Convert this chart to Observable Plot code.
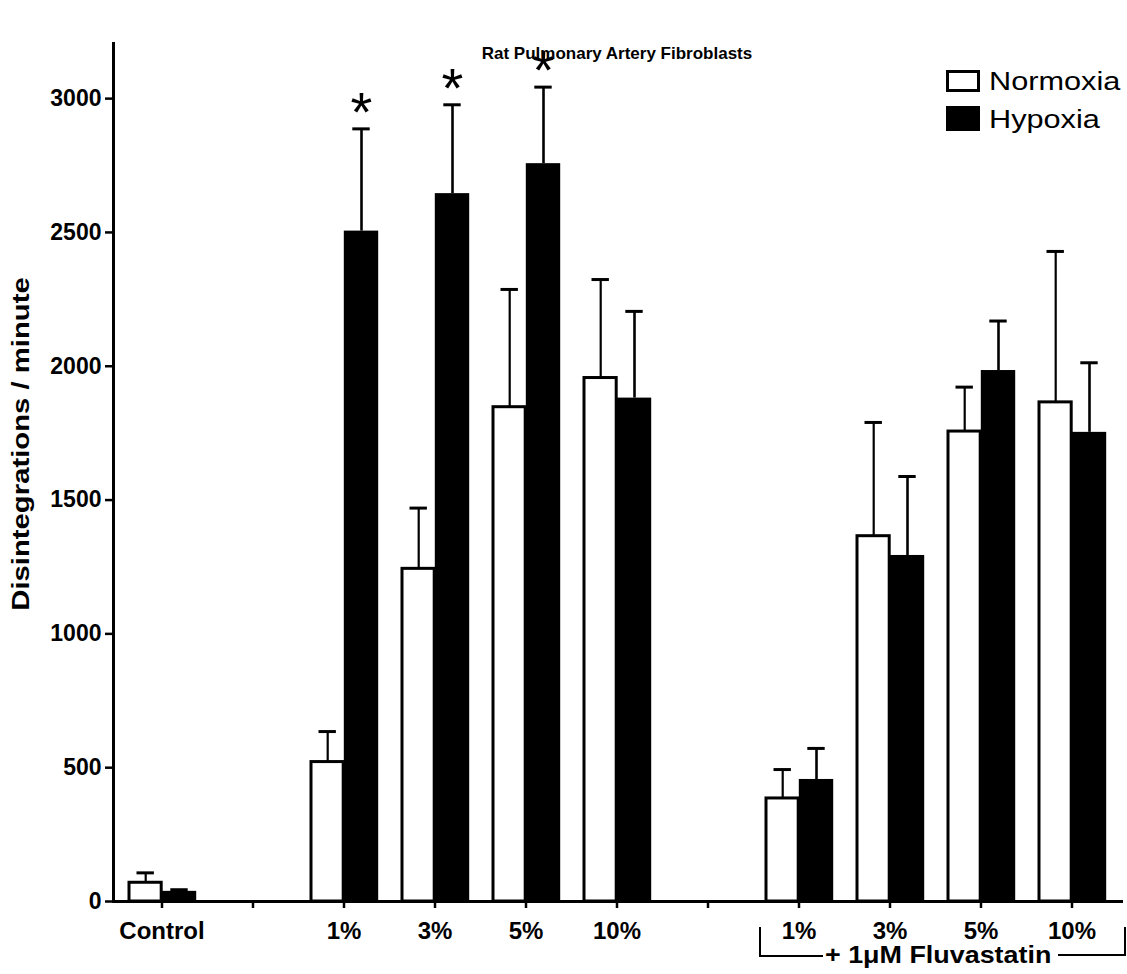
<!DOCTYPE html>
<html>
<head>
<meta charset="utf-8">
<script src="https://cdn.jsdelivr.net/npm/d3@7"></script>
<script src="https://cdn.jsdelivr.net/npm/@observablehq/plot@0.6"></script>
<style>
  html, body { margin: 0; padding: 0; background: #fff; }
  #wrap { position: relative; width: 1127px; height: 974px; font-family: 'Liberation Sans', Arial, sans-serif; color: #000; }
  #wrap svg { position: absolute; left: 0; top: 0; }
  [aria-label="y-axis tick"], [aria-label="x-axis tick"] { stroke-width: 2.5px; }
  [aria-label="y-axis tick label"], [aria-label="x-axis tick label"] { font-weight: bold; }
  .abs { position: absolute; }
  .legbox { position: absolute; width: 34px; box-sizing: border-box; border: 3px solid #000; }
  .legtxt { position: absolute; font-size: 26px; transform: scaleX(1.18); transform-origin: left center; line-height: 1; white-space: nowrap; }
  #ylab { position: absolute; left: 21px; top: 444px; transform: translate(-50%, -50%) rotate(-90deg) scaleX(1.22); font-weight: bold; font-size: 24px; white-space: nowrap; line-height: 1; }
  #fluva { position: absolute; left: 825px; top: 943px; font-weight: bold; font-size: 24px; transform: scaleX(1.12); transform-origin: left top; line-height: 1; white-space: nowrap; }
</style>
</head>
<body>
<div id="wrap"></div>
<script>
// ---- data ----
const groupKeys = ["Control", "gap1", "1%", "3%", "5%", "10%", "gap2", "F1%", "F3%", "F5%", "F10%"];
const tickLabels = ["Control", "", "1%", "3%", "5%", "10%", "", "1%", "3%", "5%", "10%"];
const normoxiaMean = [70, null, 521, 1243, 1847, 1956, null, 385, 1365, 1756, 1865];
const normoxiaSEM  = [37, null, 114, 227, 440, 368, null, 108, 425, 166, 564];
const hypoxiaMean  = [38, null, 2505, 2645, 2757, 1881, null, 456, 1293, 1984, 1753];
const hypoxiaSEM   = [6, null, 382, 332, 286, 324, null, 116, 295, 185, 260];
const significant  = [false, false, true, true, true, false, false, false, false, false, false];
const yTicks = [0, 500, 1000, 1500, 2000, 2500, 3000];
const seriesNames = ["Normoxia", "Hypoxia"];
const titleText = "Rat Pulmonary Artery Fibroblasts";
const yLabel = "Disintegrations / minute";
const groupNote = "+ 1\u03BCM Fluvastatin";

// ---- tables ----
const labelMap = new Map(groupKeys.map((k, i) => [k, tickLabels[i]]));
const rowsN = groupKeys.map((k, i) => ({key: k, value: normoxiaMean[i], top: normoxiaMean[i] == null ? null : normoxiaMean[i] + normoxiaSEM[i]})).filter(d => d.value != null);
const rowsH = groupKeys.map((k, i) => ({key: k, value: hypoxiaMean[i], top: hypoxiaMean[i] == null ? null : hypoxiaMean[i] + hypoxiaSEM[i], sig: significant[i]})).filter(d => d.value != null);
const rowsSig = rowsH.filter(d => d.sig);

const chart = Plot.plot({
  width: 1127,
  height: 974,
  marginLeft: 113,
  marginRight: 7,
  marginTop: 43,
  marginBottom: 73,
  style: {fontFamily: "'Liberation Sans', Arial, sans-serif", color: "black", background: "white", overflow: "visible"},
  x: {domain: groupKeys, padding: 0},
  y: {domain: [0, 3206]},
  marks: [
    Plot.text([titleText], {frameAnchor: "top", dy: 3, fontSize: 17, fontWeight: "bold", text: d => d}),
    // error bars
    Plot.ruleX(rowsN, {x: "key", y1: "value", y2: "top", dx: -16.3, strokeWidth: 2.2}),
    Plot.tickY(rowsN, {x: "key", y: "top", insetLeft: 20.5, insetRight: 53.1, strokeWidth: 3}),
    Plot.ruleX(rowsH, {x: "key", y1: "value", y2: "top", dx: 17.5, strokeWidth: 2.6}),
    Plot.tickY(rowsH, {x: "key", y: "top", insetLeft: 54.3, insetRight: 19.3, strokeWidth: 3}),
    // bars
    Plot.barY(rowsN, {x: "key", y: "value", fill: "white", stroke: "black", strokeWidth: 3, insetLeft: 13, insetRight: 45.8}),
    Plot.barY(rowsH, {x: "key", y: "value", fill: "black", insetLeft: 45.8, insetRight: 10.8}),
    Plot.text(rowsSig, {x: "key", y: "top", text: () => "*", dx: 17.5, dy: -16, fontSize: 56}),
    // axes
    Plot.axisY({ticks: yTicks, tickFormat: d => String(d), tickSize: 8, tickPadding: 4, fontSize: 23, label: null}),
    Plot.axisX({ticks: groupKeys, tickFormat: d => labelMap.get(d), tickSize: 7, tickPadding: 13, fontSize: 24, label: null}),
    Plot.ruleY([0], {strokeWidth: 3, insetRight: -3}),
    Plot.frame({anchor: "left", strokeWidth: 3})
  ]
});

const wrap = document.getElementById("wrap");
wrap.appendChild(chart);

// y-axis label
const yl = document.createElement("div");
yl.id = "ylab"; yl.textContent = yLabel; wrap.appendChild(yl);

// legend
const leg = [
  {name: seriesNames[0], fill: "#fff", top: 70, h: 22, ty: 68},
  {name: seriesNames[1], fill: "#000", top: 106, h: 25, ty: 106}
];
for (const l of leg) {
  const b = document.createElement("div");
  b.className = "legbox";
  b.style.left = "946px"; b.style.top = l.top + "px"; b.style.height = l.h + "px"; b.style.background = l.fill;
  wrap.appendChild(b);
  const t = document.createElement("div");
  t.className = "legtxt"; t.textContent = l.name;
  t.style.left = "989px"; t.style.top = l.ty + "px";
  wrap.appendChild(t);
}

// bracket for fluvastatin group
const bl = document.createElement("div");
bl.className = "abs";
Object.assign(bl.style, {left: "759px", top: "927px", width: "62px", height: "28px", borderLeft: "2.5px solid #000", borderBottom: "2.5px solid #000"});
wrap.appendChild(bl);
const br = document.createElement("div");
br.className = "abs";
Object.assign(br.style, {left: "1058px", top: "927px", width: "66px", height: "27px", borderRight: "2.5px solid #000", borderBottom: "2.5px solid #000"});
wrap.appendChild(br);
const fl = document.createElement("div");
fl.id = "fluva"; fl.textContent = groupNote; wrap.appendChild(fl);
</script>
</body>
</html>
